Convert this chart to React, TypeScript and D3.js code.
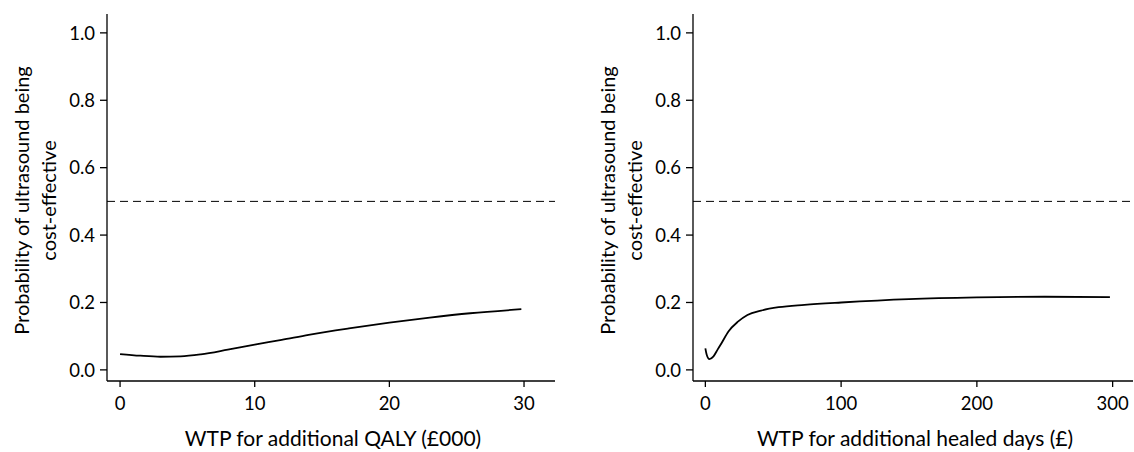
import React from 'react';
import * as d3 from 'd3';

// y axis shared by both panels
const yTicks = [0, 0.2, 0.4, 0.6, 0.8, 1.0];
const yLabelLines = ['Probability of ultrasound being', 'cost-effective'];
const threshold = 0.5;

// left panel: WTP per QALY (£000)
const qalyX = [0, 1.5, 3, 4.5, 6, 8, 10, 12, 14, 17, 20, 23, 26, 29.8];
const qalyP = [0.047, 0.042, 0.039, 0.04, 0.046, 0.06, 0.075, 0.089, 0.104, 0.123, 0.14, 0.155, 0.168, 0.18];
const qalyTicks = [0, 10, 20, 30];

// right panel: WTP per healed day (£)
const daysX = [0, 1, 3, 6, 9, 12, 17, 24, 31, 41, 54, 73, 100, 150, 200, 250, 298];
const daysP = [0.064, 0.045, 0.032, 0.04, 0.06, 0.08, 0.114, 0.143, 0.163, 0.176, 0.186, 0.193, 0.2, 0.21, 0.215, 0.217, 0.216];
const daysTicks = [0, 100, 200, 300];

const FONT = 'Lato, "DejaVu Sans", sans-serif';

interface PanelProps {
  left: number;
  right: number;
  xDomain: [number, number];
  xs: number[];
  ps: number[];
  ticks: number[];
  xLabel: string;
}

const top = 14;
const bottom = 381;

const Panel: React.FC<PanelProps> = ({ left, right, xDomain, xs, ps, ticks, xLabel }) => {
  const x = d3.scaleLinear().domain(xDomain).range([left, right]);
  const y = d3.scaleLinear().domain([-0.033, 1.056]).range([bottom, top]);
  const pts = xs.map((v, i) => [v, ps[i]] as [number, number]);
  const line = d3
    .line<[number, number]>()
    .x((d) => x(d[0]))
    .y((d) => y(d[1]))
    .curve(d3.curveMonotoneX);

  const labelX = left - 78;
  const midY = (top + bottom) / 2 + 3;

  return (
    <g>
      {/* axes */}
      <line x1={left} x2={left} y1={top} y2={bottom} stroke="#000" strokeWidth={1.3} />
      <line x1={left} x2={right} y1={bottom} y2={bottom} stroke="#000" strokeWidth={1.3} />
      {yTicks.map((t) => (
        <g key={t}>
          <line x1={left - 7} x2={left} y1={y(t)} y2={y(t)} stroke="#000" strokeWidth={1.3} />
          <text x={left - 12} y={y(t)} dy="0.36em" textAnchor="end" fontSize={18.5} fontFamily={FONT}>
            {t.toFixed(1)}
          </text>
        </g>
      ))}
      {ticks.map((t) => (
        <g key={t}>
          <line x1={x(t)} x2={x(t)} y1={bottom} y2={bottom + 6} stroke="#000" strokeWidth={1.3} />
          <text x={x(t)} y={410} textAnchor="middle" fontSize={18.5} fontFamily={FONT}>
            {t}
          </text>
        </g>
      ))}
      {/* 50% line */}
      <line x1={left} x2={right} y1={y(threshold)} y2={y(threshold)} stroke="#000" strokeWidth={1} strokeDasharray="8,5" />
      <path d={line(pts) ?? ''} fill="none" stroke="#000" strokeWidth={1.8} />
      {/* labels */}
      <text x={(left + right) / 2 + 2} y={446} textAnchor="middle" fontSize={21} fontFamily={FONT}>
        {xLabel}
      </text>
      {yLabelLines.map((s, i) => (
        <text
          key={s}
          transform={`translate(${labelX + i * 27},${midY}) rotate(-90)`}
          textAnchor="middle"
          fontSize={20}
          fontFamily={FONT}
        >
          {s}
        </text>
      ))}
    </g>
  );
};

const App: React.FC = () => (
  <svg width={1134} height={452} style={{ position: 'absolute', left: 0, top: 0, background: '#fff' }}>
    <Panel
      left={107}
      right={555}
      xDomain={[-0.97, 32.3]}
      xs={qalyX}
      ps={qalyP}
      ticks={qalyTicks}
      xLabel="WTP for additional QALY (£000)"
    />
    <Panel
      left={693}
      right={1133}
      xDomain={[-9.1, 315]}
      xs={daysX}
      ps={daysP}
      ticks={daysTicks}
      xLabel="WTP for additional healed days (£)"
    />
  </svg>
);

export default App;
